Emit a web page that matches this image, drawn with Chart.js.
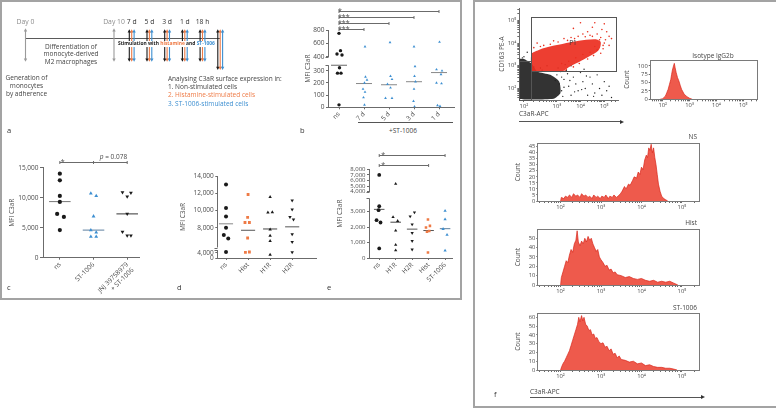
<!DOCTYPE html>
<html>
<head>
<meta charset="utf-8">
<title>C3aR surface expression</title>
<script src="https://cdn.jsdelivr.net/npm/chart.js@4.4.1/dist/chart.umd.min.js"></script>
<style>
  body { margin: 0; background: #fff; }
  #fig { position: relative; width: 776px; height: 408px; overflow: hidden; font-family: 'Open Sans', 'Noto Sans', sans-serif; color: #444; }
  #fig canvas { position: absolute; }
  .box { position: absolute; border: 2px solid #a3a3a3; box-sizing: border-box; }
  .t { position: absolute; white-space: nowrap; font-size: 6.5px; line-height: 1; }
  .hl { position: absolute; height: 0; border-top: 1px solid #555; }
  .hl.arr::after { content: ''; position: absolute; right: -2px; top: -2.5px; border-left: 4px solid #333; border-top: 2px solid transparent; border-bottom: 2px solid transparent; }
</style>
</head>
<body>
<div id="fig">
  <div class="box" style="left:0;top:0;width:462px;height:300px"></div>
  <div class="box" style="left:473px;top:0;width:320px;height:408px"></div>
</div>
<script>
// ---------- data ----------
// panel a, timeline
const timelineLabels = ['Day 0', '', '', '', '', 'Day 10', '7 d', '5 d', '3 d', '1 d', '18 h', ''];
const timelineKinds = ['prep', null, null, null, null, 'prep', 'stim', 'stim', 'stim', 'stim', 'stim', 'end'];

// panel b
const bCats = ['ns', '7 d', '5 d', '3 d', '1 d'];
const bValues = [
  [750, 490, 440, 425, 325, 280, 280, 20],
  [550, 250, 225, 200, 150, 125, 80, 20],
  [615, 255, 230, 190, 160, 75, 75],
  [550, 335, 255, 210, 150, 50, 5],
  [620, 310, 300, 270, 200, 195, 15, 10]
];
const bSpread = [
  [0, 0.06, -0.08, 0.12, 0.02, -0.06, 0.08, 0],
  [0.04, 0.06, 0.12, 0.02, -0.04, 0.04, -0.02, 0.02],
  [0.04, 0.06, 0.12, -0.06, 0.06, -0.14, 0.12],
  [0, 0.04, 0.02, 0.06, 0, -0.02, 0.02],
  [0.02, -0.1, 0.12, 0.08, -0.1, 0.1, -0.06, 0.04]
];
const bMedians = [345, 195, 185, 210, 285];
const bTicks = [0, 100, 200, 300, 400, 600, 800];
const bSig = [[0, 1, '***'], [0, 2, '***'], [0, 3, '***'], [0, 4, '*']];

// panel c
const cCats = ['ns', 'ST-1006', ['JNJ 39758979', '+ ST-1006']];
const cValues = [
  [14000, 12900, 10300, 9300, 7300, 6800, 4600],
  [10700, 10300, 6900, 4600, 4200, 3500, 3500],
  [10900, 10800, 10200, 7300, 4300, 3700, 3700]
];
const cSpread = [
  [0, 0, 0, 0, -0.08, 0.12, 0],
  [-0.08, 0.08, 0, -0.08, 0.08, -0.08, 0.08],
  [-0.14, 0.11, 0, 0, -0.14, 0, 0.11]
];
const cMedians = [9350, 4600, 7300];
const cTicks = [0, 5000, 10000, 15000];
const cSig = [[0, 2, '*', 1]];

// panel d
const dCats = ['ns', 'Hist', 'H1R', 'H2R'];
const dValues = [
  [13000, 10300, 9300, 8000, 7150, 6750, 4200],
  [11850, 9200, 8600, 8600, 6800, 4100, 4200],
  [11550, 9750, 9800, 7800, 7050, 6450, 2500],
  [11150, 10100, 9250, 8950, 7250, 6350, 4100]
];
const dSpread = [
  [0, 0, 0, 0, -0.1, 0.1, 0],
  [0, -0.02, -0.14, 0.06, -0.02, -0.12, 0.06],
  [0, -0.1, 0.1, 0, 0, 0, 0],
  [0, 0, -0.1, 0.06, 0, 0, 0]
];
const dMedians = [8450, 7700, 7850, 8100];
const dTicks = [0, 4000, 8000, 10000, 12000, 14000];

// panel e
const eCats = ['ns', 'H1R', 'H2R', 'Hist', 'ST-1006'];
const eValues = [
  [7000, 3350, 3100, 2450, 2300, 620],
  [5400, 2650, 2400, 1780, 850, 500],
  [2950, 2700, 2180, 1620, 1100, 550],
  [2500, 2080, 1980, 1750, 1700, 350],
  [3050, 2500, 1880, 1500, 480]
];
const eSpread = [
  [0, 0, -0.04, -0.16, 0.08, 0],
  [0, -0.16, 0.12, 0, 0, 0],
  [0.14, -0.12, 0, 0, 0, 0],
  [-0.04, 0.08, -0.16, 0.04, -0.1, -0.04],
  [0, 0, -0.12, 0.12, 0]
];
const eMedians = [3150, 2320, 1870, 1780, 1900];
const eTicks = [0, 1000, 2000, 3000, 4000, 5000, 6000, 7000, 8000];
const eSig = [[0, 3, '*'], [0, 4, '*']];

// panel f, dot plot in log10 units (C3aR-APC, CD163 PE-A)
const redCloud = [[2.23, 2.75], [2.23, 3.52], [2.45, 3.7], [2.67, 3.81], [3.23, 3.96], [3.93, 4.1], [4.62, 4.17], [4.85, 4.05], [4.75, 3.67], [4.05, 3.23], [3.5, 2.94], [3.2, 2.75]];
const blackCloud = [[1.42, 3.3], [2.0, 3.3], [2.23, 3.1], [2.4, 2.75], [2.8, 2.6], [3.1, 2.3], [3.15, 1.8], [2.9, 1.55], [1.42, 1.55]];
const redDots = [[4.3, 4.5], [4.5, 4.7], [4.7, 4.4], [4.9, 4.6], [5.1, 4.5], [5.2, 4.3], [4.8, 4.15], [5.0, 4.0], [5.2, 3.9], [4.95, 3.75], [4.6, 3.85], [4.4, 4.35], [3.9, 4.3], [3.6, 4.25], [4.1, 4.4], [5.3, 4.2], [3.2, 3.1], [3.5, 3.2], [3.8, 3.35], [4.1, 3.5], [4.4, 3.6], [4.7, 3.7], [2.6, 3.9], [2.9, 4.1], [3.3, 4.2], [4.6, 4.9], [4.0, 4.9], [3.7, 4.65], [5.0, 4.85], [2.4, 4.0], [2.3, 3.8], [2.5, 3.85], [2.8, 3.95], [3.05, 4.05], [3.45, 4.12], [3.75, 4.2], [4.2, 4.28], [4.5, 4.3], [4.85, 4.25], [5.05, 4.15], [4.95, 3.9], [4.85, 3.55], [4.55, 3.45], [4.3, 3.3], [3.95, 3.1], [3.7, 2.95], [3.4, 2.85], [3.35, 2.78]];
const blackDots = [[3.0, 2.6], [3.1, 2.2], [3.2, 1.9], [3.3, 2.4], [3.4, 2.8], [3.5, 2.1], [3.6, 1.7], [3.7, 2.5], [3.8, 2.2], [3.9, 1.9], [4.0, 2.7], [4.1, 2.3], [4.2, 2.0], [4.3, 1.7], [4.4, 2.5], [4.5, 2.2], [4.6, 1.8], [4.7, 2.6], [4.8, 2.0], [4.9, 1.7], [5.0, 2.3], [5.1, 1.9], [5.2, 2.1], [5.3, 1.6], [3.05, 2.9], [3.45, 2.65], [3.25, 1.65], [2.95, 2.35], [3.15, 2.75], [3.55, 2.35], [3.75, 1.85], [4.05, 1.95], [4.25, 2.55], [4.55, 1.65], [4.15, 2.85], [2.7, 3.0], [2.5, 2.9], [2.0, 3.4], [1.8, 3.35], [2.1, 3.6], [3.35, 3.05], [3.6, 3.0], [2.3, 2.95], [2.55, 2.8], [3.2, 2.5], [3.3, 2.05]];
const gateP1 = [2.21, 5.48, 2.75, 5.16];
const gateLow = [1.4, 2.21, 1.49, 3.19];

// histograms: [log10 C3aR-APC, count]
const isoBins = [[1.9, 0], [2.0, 2], [2.1, 10], [2.15, 20], [2.2, 30], [2.25, 45], [2.3, 60], [2.33, 75], [2.36, 88], [2.4, 100], [2.43, 108], [2.46, 95], [2.5, 80], [2.55, 65], [2.6, 55], [2.65, 42], [2.7, 30], [2.8, 15], [2.9, 8], [3.0, 3], [3.1, 0]];
const nsBins = [[2.0, 0], [2.02, 3], [2.08, 2], [2.12, 4], [2.18, 3], [2.22, 5], [2.28, 3], [2.32, 6], [2.38, 4], [2.42, 5], [2.48, 3], [2.52, 6], [2.58, 4], [2.62, 5], [2.68, 3], [2.72, 4], [2.78, 2], [2.82, 5], [2.88, 3], [2.92, 4], [2.98, 2], [3.02, 4], [3.08, 3], [3.12, 5], [3.18, 2], [3.22, 4], [3.28, 3], [3.32, 5], [3.38, 3], [3.42, 4], [3.48, 6], [3.52, 8], [3.58, 12], [3.62, 10], [3.68, 14], [3.72, 13], [3.78, 17], [3.82, 20], [3.88, 19], [3.92, 24], [3.96, 22], [4.0, 28], [4.04, 26], [4.08, 34], [4.12, 38], [4.15, 36], [4.18, 44], [4.21, 42], [4.24, 47], [4.27, 40], [4.3, 44], [4.33, 36], [4.36, 30], [4.39, 22], [4.42, 14], [4.46, 8], [4.5, 4], [4.55, 2], [4.6, 1], [4.65, 0]];
const histBins = [[2.0, 0], [2.02, 8], [2.06, 14], [2.1, 20], [2.14, 26], [2.18, 24], [2.22, 32], [2.26, 38], [2.3, 35], [2.34, 44], [2.38, 48], [2.41, 58], [2.44, 46], [2.48, 42], [2.52, 47], [2.56, 44], [2.6, 50], [2.64, 46], [2.68, 52], [2.72, 48], [2.76, 50], [2.8, 44], [2.84, 40], [2.88, 36], [2.92, 38], [2.96, 30], [3.0, 27], [3.05, 24], [3.1, 20], [3.15, 21], [3.2, 16], [3.25, 17], [3.3, 13], [3.35, 14], [3.4, 11], [3.5, 10], [3.6, 8], [3.7, 9], [3.8, 7], [3.9, 6], [4.0, 7], [4.1, 5], [4.2, 4], [4.3, 5], [4.4, 3], [4.5, 4], [4.6, 3], [4.7, 4], [4.8, 2], [4.85, 1], [4.9, 0]];
const stBins = [[2.0, 0], [2.03, 4], [2.07, 8], [2.1, 10], [2.14, 14], [2.18, 18], [2.22, 22], [2.26, 28], [2.3, 34], [2.34, 40], [2.38, 46], [2.42, 52], [2.45, 60], [2.48, 55], [2.52, 62], [2.55, 56], [2.58, 60], [2.62, 52], [2.66, 50], [2.7, 45], [2.74, 46], [2.78, 40], [2.82, 41], [2.86, 36], [2.9, 37], [2.95, 32], [3.0, 30], [3.05, 31], [3.1, 26], [3.15, 27], [3.2, 22], [3.25, 24], [3.3, 18], [3.35, 19], [3.4, 14], [3.45, 16], [3.5, 12], [3.6, 11], [3.7, 9], [3.8, 10], [3.9, 7], [4.0, 8], [4.1, 5], [4.2, 6], [4.3, 4], [4.4, 3], [4.5, 3], [4.6, 2], [4.7, 2], [4.8, 1], [4.88, 0]];

// ---------- styles ----------
const F = "'Open Sans', 'Noto Sans', sans-serif";
const AX = '#6b6b6b', TX = '#4a4a4a';
const BLACK = '#1a1a1a', BLUE = '#3d8fd1', ORANGE = '#ee7a45';
const SUP = {1: '¹', 2: '²', 3: '³', 4: '⁴', 5: '⁵'};
Chart.defaults.font.family = F;

const fig = document.getElementById('fig');
const font = s => ({family: F, size: s});

// piecewise linear axis, used for the broken axes and the logicle-like x axis
class PiecewiseScale extends Chart.LinearScale {
  static id = 'piecewise';
  frac(v) {
    const k = this.options.knots;
    let i = 1;
    while (i < k.length - 1 && v > k[i][0]) i++;
    const a = k[i - 1], b = k[i];
    return a[1] + (v - a[0]) / (b[0] - a[0]) * (b[1] - a[1]);
  }
  getPixelForValue(v) {
    if (v === null || v === undefined || isNaN(v)) return NaN;
    return this.getPixelForDecimal(this.frac(v));
  }
  getValueForPixel(px) {
    const d = this.getDecimalForPixel(px), k = this.options.knots;
    let i = 1;
    while (i < k.length - 1 && d > k[i][1]) i++;
    const a = k[i - 1], b = k[i];
    return a[0] + (d - a[1]) / (b[1] - a[1]) * (b[0] - a[0]);
  }
}
Chart.register(PiecewiseScale);

function zeroPad(s) { s.paddingLeft = s.paddingRight = s.paddingTop = s.paddingBottom = 0; }
const fitW = w => s => { s.width = w; zeroPad(s); };
const fitH = h => s => { s.height = h; zeroPad(s); };

function place(a, yW, xH, padT, padR) {
  const left = Math.floor(a.l - yW), top = Math.floor(a.t - padT);
  const w = Math.ceil(a.r + padR) - left, h = Math.ceil(a.b + xH) - top;
  const c = document.createElement('canvas');
  c.width = w; c.height = h;
  c.style.left = left + 'px'; c.style.top = top + 'px';
  fig.appendChild(c);
  return {canvas: c, padding: {left: a.l - yW - left, top: a.t - top, right: left + w - a.r, bottom: top + h - a.b - xH}};
}

function common(padding) {
  return {responsive: false, animation: false, devicePixelRatio: 1, events: [],
    layout: {padding}, plugins: {legend: {display: false}, tooltip: {enabled: false}}};
}

function seg(ctx, x1, y1, x2, y2) { ctx.beginPath(); ctx.moveTo(x1, y1); ctx.lineTo(x2, y2); ctx.stroke(); }

function txt(s, x, y, o) {
  o = o || {};
  const d = document.createElement('div');
  d.className = 't';
  d.innerHTML = s;
  d.style.left = x + 'px'; d.style.top = y + 'px';
  const tx = o.align === 'c' ? '-50%' : o.align === 'r' ? '-100%' : '0';
  d.style.transform = 'translate(' + tx + ',-50%)';
  if (o.size) d.style.fontSize = o.size + 'px';
  if (o.color) d.style.color = o.color;
  if (o.css) d.style.cssText += o.css;
  fig.appendChild(d);
  return d;
}
function hline(x1, x2, y, arrow) {
  const d = document.createElement('div');
  d.className = 'hl' + (arrow ? ' arr' : '');
  d.style.left = x1 + 'px'; d.style.top = y + 'px'; d.style.width = (x2 - x1) + 'px';
  fig.appendChild(d);
}

function logTicks(lo, hi) {
  const t = [];
  for (let d = 1; d <= 5; d++) for (let m = 1; m <= 9; m++) {
    const v = d + Math.log10(m);
    if (v >= lo - 1e-9 && v <= hi + 1e-9) t.push({value: v});
  }
  return t;
}
const decadeLabel = v => Math.abs(v - Math.round(v)) < 1e-6 ? '10' + SUP[Math.round(v)] : '';

// ---------- panel a: timeline ----------
(function () {
  const c = document.createElement('canvas');
  c.width = 216; c.height = 57; c.style.left = '10px'; c.style.top = '14px';
  fig.appendChild(c);
  const arrowCols = [BLACK, ORANGE, BLUE];
  function arrow(ctx, x, y1, y2, col) {
    ctx.strokeStyle = col; ctx.fillStyle = col; ctx.lineWidth = 1.1;
    seg(ctx, x, y1 + 2, x, y2 - 2);
    ctx.beginPath(); ctx.moveTo(x, y1); ctx.lineTo(x - 1.7, y1 + 3.2); ctx.lineTo(x + 1.7, y1 + 3.2); ctx.closePath(); ctx.fill();
    ctx.beginPath(); ctx.moveTo(x, y2); ctx.lineTo(x - 1.7, y2 - 3.2); ctx.lineTo(x + 1.7, y2 - 3.2); ctx.closePath(); ctx.fill();
  }
  new Chart(c, {
    type: 'line',
    data: {labels: timelineLabels, datasets: []},
    options: Object.assign(common({left: 15.5, right: 5.8, top: 0, bottom: 0}), {
      scales: {
        x: {type: 'category', position: 'top', offset: false, afterFit: fitH(15.3),
          border: {display: false}, grid: {display: false, drawTicks: false},
          ticks: {autoSkip: false, maxRotation: 0, padding: 3, font: font(6.8),
            color: ctx => (timelineLabels[ctx.index] || '').startsWith('Day') ? '#8c8c8c' : '#333'}},
        y: {display: false, min: 0, max: 1}
      }
    }),
    plugins: [{
      id: 'timeline',
      afterDraw(chart) {
        const ctx = chart.ctx, xs = chart.scales.x, ys = chart.scales.y;
        const top = ys.getPixelForValue(1), bot = ys.getPixelForValue(0.223), end = ys.getPixelForValue(0.024);
        const track = Math.round(ys.getPixelForValue(0.784)) + 0.5;
        ctx.save();
        ctx.strokeStyle = '#5a5a5a'; ctx.lineWidth = 1;
        seg(ctx, xs.getPixelForValue(0), track, xs.getPixelForValue(timelineLabels.length - 1), track);
        timelineKinds.forEach((k, i) => {
          if (!k) return;
          const x = xs.getPixelForValue(i);
          if (k === 'prep') arrow(ctx, x, top - 1, bot, '#9a9a9a');
          else arrowCols.forEach((col, j) => arrow(ctx, x + (j - 1) * 2.4, top, k === 'end' ? end : bot, col));
        });
        ctx.restore();
      }
    }]
  });
})();

txt('Differentiation of<br>monocyte-derived<br>M2 macrophages', 71, 54.5, {align: 'c', css: 'text-align:center;line-height:7.8px;'});
txt('Generation of<br>monocytes<br>by adherence', 26.5, 86.1, {align: 'c', css: 'text-align:center;line-height:7.85px;'});
txt('Stimulation with <span style="color:' + ORANGE + '">histamine</span> and <span style="color:' + BLUE + '">ST-1006</span>', 117.5, 43.7,
  {size: 4.9, color: '#222', css: 'font-weight:bold;background:#fff;padding:0.5px 0.5px;'});
txt('Analysing C3aR surface expression in:<br>1. Non-stimulated cells<br><span style="color:' + ORANGE + '">2. Histamine-stimulated cells</span><br><span style="color:' + BLUE + '">3. ST-1006-stimulated cells</span>',
  168, 91.6, {css: 'line-height:8.35px;'});
txt('a', 7, 131, {size: 7.5, color: '#333'});

// ---------- dot panels b-e ----------
function deco(p) {
  return {
    id: 'deco',
    afterDraw(chart) {
      const ctx = chart.ctx, ca = chart.chartArea, xs = chart.scales.x, ys = chart.scales.y;
      ctx.save();
      ctx.strokeStyle = AX; ctx.fillStyle = TX; ctx.lineWidth = 1;
      if (p.segments) {
        const x0 = Math.round(ca.left) - 0.5;
        p.segments.forEach((sg, i) => {
          const yA = ys.getPixelForValue(sg[0]), yB = ys.getPixelForValue(sg[1]);
          seg(ctx, x0, yA, x0, yB);
          if (i > 0) seg(ctx, x0 - 3, Math.round(yA) + 0.5, x0, Math.round(yA) + 0.5);
          if (i < p.segments.length - 1) seg(ctx, x0 - 3, Math.round(yB) + 0.5, x0, Math.round(yB) + 0.5);
        });
      }
      (p.sig || []).forEach((s, i) => {
        const y = Math.round(ca.top - p.sigGap[0] - i * p.sigGap[1]) + 0.5;
        const xa = xs.getPixelForValue(s[0]), xb = xs.getPixelForValue(s[1]);
        seg(ctx, xa, y, xb, y);
        seg(ctx, xa, y - 1.5, xa, y + 1.5);
        seg(ctx, xb, y - 1.5, xb, y + 1.5);
        if (s[3] !== undefined) { const xm = xs.getPixelForValue(s[3]); seg(ctx, xm, y - 1.5, xm, y + 1.5); }
        ctx.font = '7px ' + F; ctx.textAlign = 'left'; ctx.textBaseline = 'alphabetic';
        ctx.fillText(s[2], xa + (p.sigShift || 0), y + 1);
        if (p.pText) {
          const xc = xs.getPixelForValue(p.pText.at);
          ctx.font = 'italic 6.5px ' + F;
          const wp = ctx.measureText('p').width;
          ctx.font = '6.5px ' + F;
          const wr = ctx.measureText(p.pText.text).width;
          const x1 = xc - (wp + wr) / 2;
          ctx.font = 'italic 6.5px ' + F; ctx.fillText('p', x1, y - 3.5);
          ctx.font = '6.5px ' + F; ctx.fillText(p.pText.text, x1 + wp, y - 3.5);
        }
      });
      ctx.restore();
    }
  };
}

function dotPanel(p) {
  const pl = place(p.area, p.yW, p.xH, p.padT, 3);
  const ds = p.values.map((vals, g) => ({
    data: vals.map((v, i) => ({x: g + p.spread[g][i], y: v})),
    pointStyle: p.marks[g].shape, rotation: p.marks[g].rot || 0, pointRadius: p.marks[g].r,
    backgroundColor: p.marks[g].color, borderWidth: 0
  }));
  p.medians.forEach((m, g) => ds.push({type: 'line', data: [{x: g - 0.32, y: m}, {x: g + 0.32, y: m}],
    borderColor: p.medColors[g], borderWidth: 1, pointRadius: 0}));
  new Chart(pl.canvas, {
    type: 'scatter',
    data: {datasets: ds},
    options: Object.assign(common(pl.padding), {
      scales: {
        x: {type: 'linear', min: p.xMin, max: p.xMax,
          afterBuildTicks: s => { s.ticks = p.cats.map((c, i) => ({value: i})); },
          afterFit: fitH(p.xH),
          border: {color: AX}, grid: {drawOnChartArea: false, tickLength: 2, color: AX},
          ticks: {autoSkip: false, minRotation: 45, maxRotation: 45, padding: 1, color: TX, font: font(6.5),
            callback: v => p.cats[Math.round(v)]}},
        y: {type: p.knots ? 'piecewise' : 'linear', knots: p.knots, min: p.yMin, max: p.yMax,
          afterBuildTicks: s => { s.ticks = p.yTicks.map(v => ({value: v})); },
          afterFit: fitW(p.yW),
          border: {display: !p.knots, color: AX}, grid: {drawOnChartArea: false, tickLength: 3, color: AX},
          ticks: {autoSkip: false, padding: 1.5, color: TX, font: font(p.tickSize || 6.5), callback: v => v.toLocaleString('en-US')},
          title: {display: true, text: 'MFI C3aR', color: TX, font: font(6.5), padding: 0}}
      }
    }),
    plugins: [deco(p)]
  });
}

const circ = (color, r) => ({shape: 'circle', r: r || 2, color});
const tri = (color, r) => ({shape: 'triangle', r: r || 2.2, color});
const triDown = (color, r) => ({shape: 'triangle', rot: 180, r: r || 2.2, color});
const sq = (color, r) => ({shape: 'rect', r: r || 2, color});

dotPanel({
  area: {l: 329, r: 455, t: 30, b: 107.3}, yW: 24.9, xH: 14, padT: 22,
  cats: bCats, values: bValues, spread: bSpread, medians: bMedians,
  marks: [circ(BLACK, 1.7), tri(BLUE, 1.6), tri(BLUE, 1.6), tri(BLUE, 1.6), tri(BLUE, 1.6)],
  medColors: ['#666', '#888', '#888', '#888', '#888'],
  xMin: -0.4, xMax: 4.6, yMin: 0, yMax: 800, yTicks: bTicks,
  knots: [[0, 0], [300, 0.473], [345, 0.544], [400, 0.655], [800, 1]], segments: [[0, 345], [400, 800]],
  sig: bSig, sigGap: [1, 6], sigShift: -1
});
dotPanel({
  area: {l: 43, r: 140, t: 167.7, b: 257.7}, yW: 34.9, xH: 38, padT: 16,
  cats: cCats, values: cValues, spread: cSpread, medians: cMedians,
  marks: [circ(BLACK, 2.1), tri(BLUE, 2.2), triDown(BLACK, 2.2)],
  medColors: ['#777', '#5d7f9e', '#333'],
  xMin: -0.5, xMax: 2.35, yMin: 0, yMax: 15000, yTicks: cTicks,
  sig: cSig, sigGap: [5.7, 0], sigShift: 1, pText: {at: 1.59, text: ' = 0.078'}
});
dotPanel({
  area: {l: 218.3, r: 316.7, t: 176, b: 258}, yW: 39.2, xH: 24, padT: 4,
  cats: dCats, values: dValues, spread: dSpread, medians: dMedians,
  marks: [circ(BLACK, 2), sq(ORANGE, 2), tri(BLACK, 2), triDown(BLACK, 2)],
  medColors: ['#888', '#555', '#444', '#555'],
  xMin: -0.35, xMax: 4.08, yMin: 0, yMax: 14000, yTicks: dTicks,
  knots: [[0, 0], [4000, 0.065], [4800, 0.0976], [5700, 0.128], [14000, 1]], segments: [[0, 4800], [5700, 14000]]
});
dotPanel({
  area: {l: 370, r: 453, t: 169.3, b: 258}, yW: 33.9, xH: 28, padT: 18,
  cats: eCats, values: eValues, spread: eSpread, medians: eMedians,
  marks: [circ(BLACK, 1.9), tri(BLACK, 1.9), triDown(BLACK, 1.9), sq(ORANGE, 1.8), tri(BLUE, 1.9)],
  medColors: ['#555', '#444', '#555', '#555', '#5d7f9e'],
  xMin: -0.56, xMax: 4.42, yMin: 0, yMax: 8000, yTicks: eTicks, tickSize: 6,
  knots: [[0, 0], [3000, 0.522], [3850, 0.671], [4000, 0.747], [8000, 1]], segments: [[0, 3850], [4000, 8000]],
  sig: eSig, sigGap: [4.3, 10.3], sigShift: 2
});

hline(358, 453, 122);
txt('+ST-1006', 403, 131, {align: 'c'});
txt('b', 300, 131, {size: 7.5, color: '#333'});
txt('c', 7, 288, {size: 7.5, color: '#333'});
txt('d', 177, 288, {size: 7.5, color: '#333'});
txt('e', 327, 288, {size: 7.5, color: '#333'});

// ---------- panel f: dot plot ----------
(function () {
  const area = {l: 519.3, r: 620, t: 6.7, b: 100};
  const pl = place(area, 21.5, 9, 2, 2);
  const pts = a => a.map(q => ({x: q[0], y: q[1]}));
  new Chart(pl.canvas, {
    type: 'scatter',
    data: {datasets: [
      {type: 'line', data: pts(redCloud.concat([redCloud[0]])), fill: 'shape', backgroundColor: 'rgba(236,46,32,0.92)', borderWidth: 0, pointRadius: 0, tension: 0.3},
      {data: pts(redDots), pointRadius: 0.8, backgroundColor: '#e8301f', borderWidth: 0},
      {data: pts(blackDots), pointRadius: 0.7, backgroundColor: '#222', borderWidth: 0},
      {type: 'line', data: pts(blackCloud.concat([blackCloud[0]])), fill: 'shape', backgroundColor: 'rgba(15,15,15,0.85)', borderWidth: 0, pointRadius: 0, tension: 0.2}
    ]},
    options: Object.assign(common(pl.padding), {
      scales: {
        x: {type: 'piecewise', knots: [[1.4, 0], [2, 0.047], [3, 0.381], [4, 0.62], [5, 0.861], [5.57, 1]], min: 1.4, max: 5.57,
          afterBuildTicks: s => { s.ticks = logTicks(2, 5.57); }, afterFit: fitH(9),
          border: {color: AX}, grid: {drawOnChartArea: false, tickLength: 2, color: AX},
          ticks: {autoSkip: false, maxRotation: 0, padding: 0.5, color: TX, font: font(5.8), callback: decadeLabel}},
        y: {type: 'linear', min: 1.49, max: 5.55,
          afterBuildTicks: s => { s.ticks = logTicks(1.49, 5.55); }, afterFit: fitW(21.5),
          border: {color: AX}, grid: {drawOnChartArea: false, tickLength: 2, color: AX},
          ticks: {autoSkip: false, padding: 1, color: TX, font: font(5.8), callback: decadeLabel},
          title: {display: true, text: 'CD163 PE-A', color: TX, font: font(6.5), padding: 0}}
      }
    }),
    plugins: [{
      id: 'gates',
      afterDatasetsDraw(chart) {
        const ctx = chart.ctx, xs = chart.scales.x, ys = chart.scales.y;
        ctx.save();
        ctx.strokeStyle = '#555'; ctx.lineWidth = 1;
        [gateP1, gateLow].forEach(g => {
          const x1 = Math.round(xs.getPixelForValue(g[0])) + 0.5, x2 = Math.round(xs.getPixelForValue(g[1])) + 0.5;
          const y1 = Math.round(ys.getPixelForValue(g[3])) + 0.5, y2 = Math.round(ys.getPixelForValue(g[2])) + 0.5;
          ctx.strokeRect(x1, y1, x2 - x1, y2 - y1);
        });
        ctx.restore();
      }
    }]
  });
})();
txt('P1', 573, 43.3, {align: 'c', color: '#333'});
txt('C3aR-APC', 519, 114);
hline(519, 621.7, 121, true);

// ---------- panel f: histograms ----------
const frame = {
  id: 'frame',
  afterDraw(chart) {
    const ctx = chart.ctx, ca = chart.chartArea;
    ctx.save(); ctx.strokeStyle = '#7a7a7a'; ctx.lineWidth = 1;
    ctx.strokeRect(Math.round(ca.left) - 0.5, Math.round(ca.top) + 0.5, Math.round(ca.right - ca.left) + 1, Math.round(ca.bottom - ca.top));
    ctx.restore();
  }
};
function histPanel(p) {
  const pl = place(p.area, p.yW, 14, 2, 2);
  new Chart(pl.canvas, {
    type: 'line',
    data: {datasets: [{data: p.bins.map(b => ({x: b[0], y: b[1]})), fill: 'origin', backgroundColor: '#ee5a4c',
      borderColor: '#d8261b', borderWidth: 0.7, pointRadius: 0, tension: 0}]},
    options: Object.assign(common(pl.padding), {
      scales: {
        x: {type: 'linear', min: p.xMin, max: p.xMax,
          afterBuildTicks: s => { s.ticks = logTicks(p.xMin, p.xMax); }, afterFit: fitH(14),
          border: {display: false}, grid: {drawOnChartArea: false, tickLength: 2, color: AX},
          ticks: {autoSkip: false, maxRotation: 0, padding: 1, color: TX, font: font(5.8), callback: decadeLabel}},
        y: {type: 'linear', min: 0, max: p.yMax,
          afterBuildTicks: s => { s.ticks = p.yTicks.map(v => ({value: v})); }, afterFit: fitW(p.yW),
          border: {display: false}, grid: {drawOnChartArea: false, tickLength: 2, color: AX},
          ticks: {autoSkip: false, padding: 1, color: TX, font: font(5.8)},
          title: {display: true, text: 'Count', color: TX, font: font(6.5), padding: 0}}
      }
    }),
    plugins: [frame]
  });
}
histPanel({area: {l: 650.7, r: 756.7, t: 60, b: 99.3}, yW: 27.9, bins: isoBins, xMin: 1.55, xMax: 5.5, yMax: 118, yTicks: [0, 25, 50, 75, 100]});
histPanel({area: {l: 538.3, r: 699.3, t: 143.3, b: 201}, yW: 23.9, bins: nsBins, xMin: 1.45, xMax: 5.43, yMax: 47.8, yTicks: [0, 5, 10, 15, 20, 25, 30, 35, 40, 45]});
histPanel({area: {l: 538.3, r: 699.3, t: 229.3, b: 285}, yW: 23.9, bins: histBins, xMin: 1.45, xMax: 5.43, yMax: 59.6, yTicks: [0, 10, 20, 30, 40, 50]});
histPanel({area: {l: 538.3, r: 699.3, t: 313.3, b: 370}, yW: 23.9, bins: stBins, xMin: 1.45, xMax: 5.43, yMax: 64.6, yTicks: [0, 10, 20, 30, 40, 50, 60]});

txt('Isotype IgG2b', 713, 56, {align: 'c'});
txt('NS', 697, 137, {align: 'r'});
txt('Hist', 697, 222.7, {align: 'r'});
txt('ST-1006', 697, 307.7, {align: 'r'});
txt('C3aR-APC', 530, 392.3);
hline(530, 702.7, 396.7, true);
txt('f', 494, 395, {size: 7.5, color: '#333'});
</script>
</body>
</html>
